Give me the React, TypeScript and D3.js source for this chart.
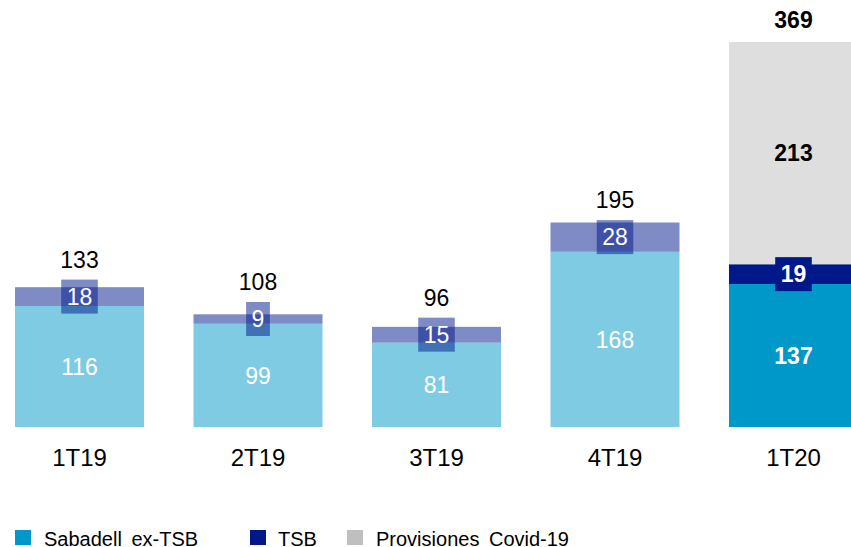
import React from 'react';
import * as d3 from 'd3';

const categories = ['1T19', '2T19', '3T19', '4T19', '1T20'];
const exTsb = [116, 99, 81, 168, 137];
const tsb = [18, 9, 15, 28, 19];
const covid = [0, 0, 0, 0, 213];
const totals = [133, 108, 96, 195, 369];
const highlighted = [false, false, false, false, true];

const seriesNames = ['Sabadell ex-TSB', 'TSB', 'Provisiones Covid-19'];
const colors = { ex: '#0098c9', tsb: '#00188a', covid: '#dedede', covidLegend: '#bfbfbf' };

const W = 851;
const H = 547;
const font = '"Liberation Sans", Arial, sans-serif';
const fs = 23;

const App = () => {
  const x = d3.scaleBand<string>()
    .domain(categories)
    .range([-9.75, 882.75])
    .paddingInner(0.2773)
    .paddingOuter(0.1387);

  const y = d3.scaleLinear().domain([0, 369]).range([427, 42]);

  const rows = categories.map((c, i) => {
    const b0 = 0;
    const b1 = exTsb[i];
    const b2 = b1 + tsb[i];
    const b3 = b2 + covid[i];
    return { c, i, b0, b1, b2, b3 };
  });

  // label box is as wide as the number plus a little padding
  const boxW = (v: number) => String(v).length * 0.556 * fs + 11;

  const legend = [
    { name: seriesNames[0], color: colors.ex, sx: 15, tx: 44 },
    { name: seriesNames[1], color: colors.tsb, sx: 250, tx: 278 },
    { name: seriesNames[2], color: colors.covidLegend, sx: 347, tx: 376 },
  ];

  return (
    <svg width={W} height={H} style={{ position: 'absolute', left: 0, top: 0 }} fontFamily={font}>
      {rows.map(r => {
        const x0 = x(r.c) as number;
        const bw = x.bandwidth();
        const cx = x0 + bw / 2;
        const hl = highlighted[r.i];
        const op = hl ? 1 : 0.5;
        const tsbMid = (y(r.b1) + y(r.b2)) / 2;
        const bwBox = boxW(tsb[r.i]);
        const boxTop = tsbMid - 17;
        const top = y(r.b3);
        const totalY = hl ? top - 14 : boxTop - 12;
        return (
          <g key={r.c}>
            <rect x={x0} y={y(r.b1)} width={bw} height={y(r.b0) - y(r.b1)} fill={colors.ex} opacity={op} />
            <rect x={x0} y={y(r.b2)} width={bw} height={y(r.b1) - y(r.b2)} fill={colors.tsb} opacity={op} />
            {covid[r.i] > 0 && (
              <rect x={x0} y={y(r.b3)} width={bw} height={y(r.b2) - y(r.b3)} fill={colors.covid} />
            )}
            <text x={cx} y={(y(r.b0) + y(r.b1)) / 2} dy="0.36em" textAnchor="middle" fill="#fff"
              fontSize={fs} fontWeight={hl ? 'bold' : 'normal'}>{exTsb[r.i]}</text>
            <rect x={cx - bwBox / 2} y={boxTop} width={bwBox} height={34} fill={colors.tsb} opacity={op} />
            <text x={cx} y={tsbMid} dy="0.36em" textAnchor="middle" fill="#fff"
              fontSize={fs} fontWeight={hl ? 'bold' : 'normal'}>{tsb[r.i]}</text>
            {covid[r.i] > 0 && (
              <text x={cx} y={(y(r.b2) + y(r.b3)) / 2} dy="0.36em" textAnchor="middle" fill="#000"
                fontSize={fs} fontWeight="bold">{covid[r.i]}</text>
            )}
            <text x={cx} y={totalY} textAnchor="middle" fill="#000"
              fontSize={fs} fontWeight={hl ? 'bold' : 'normal'}>{totals[r.i]}</text>
            <text x={cx} y={466} textAnchor="middle" fill="#000" fontSize={24}>{r.c}</text>
          </g>
        );
      })}
      <g fontSize={20} fill="#000" style={{ wordSpacing: '4px' }}>
        {legend.map(l => (
          <g key={l.name}>
            <rect x={l.sx} y={530} width={16} height={15} fill={l.color} />
            <text x={l.tx} y={546}>{l.name}</text>
          </g>
        ))}
      </g>
    </svg>
  );
};

export default App;
